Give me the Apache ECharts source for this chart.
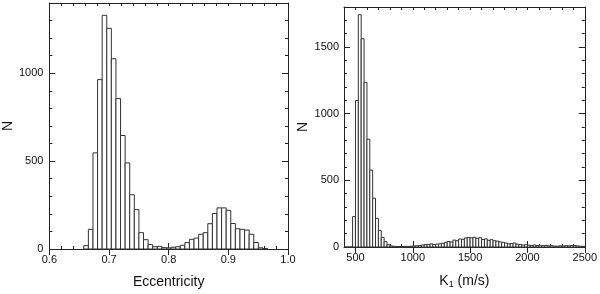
<!DOCTYPE html>
<html>
<head>
<meta charset="utf-8">
<script src="https://cdn.jsdelivr.net/npm/echarts@6/dist/echarts.min.js"></script>
<style>
  html, body { margin: 0; padding: 0; background: #fff; }
  #chart { width: 600px; height: 294px; }
</style>
</head>
<body>
<div id="chart"></div>
<script>
// eccentricity histogram: bins start at eccBinStart, each eccBinWidth wide
const eccBinStart = 0.6577;
const eccBinWidth = 0.0077;
const eccCounts = [
  19, 112, 547, 964, 1330, 1256, 1083, 856, 646, 490,
  309, 224, 93, 53, 25, 13, 15, 8, 6, 10,
  13, 21, 36, 55, 62, 84, 93, 144, 202, 234,
  234, 220, 145, 115, 112, 108, 84, 37, 7, 3
];
const eccTicks = [0.6, 0.7, 0.8, 0.9, 1.0];
const eccNTicks = [0, 500, 1000];

// K1 histogram (m/s), 25 m/s bins from 400 to 2500
const k1BinStart = 400;
const k1BinWidth = 25;
const k1Counts = [
  0, 0, 0, 228, 1099, 1742, 1562, 1235, 809, 577,
  366, 215, 124, 72, 40, 17,
  8, 5, 4, 3, 4, 5, 4, 6,
  8, 9, 12, 15, 18, 20, 23, 19,
  22, 24, 28, 35, 41, 38, 52, 47,
  60, 58, 68, 72, 69, 73, 65, 70,
  56, 61, 50, 55, 47, 44, 38, 35,
  30, 24, 26, 30, 21, 18, 15, 17,
  14, 12, 15, 11, 13, 10, 12, 9,
  10, 7, 6, 9, 8, 10, 9, 12,
  11, 8, 6, 5
];
const k1Ticks = [500, 1000, 1500, 2000, 2500];
const k1NTicks = [0, 500, 1000, 1500];

const font = 'Liberation Sans, Arial, sans-serif';
const ink = '#222';

// bins -> [left, right, count]
function toBins(start, width, counts) {
  return counts.map((c, i) => [start + i * width, start + (i + 1) * width, c]);
}

// four axes per direction: minor + major ticks on both sides, ticks inward
function axisSet(gridIndex, pos, min, max, minorStep, majors, opts) {
  const opp = pos === 'bottom' ? 'top' : 'right';
  const line = { onZero: false, lineStyle: { color: ink, width: 1 } };
  const base = { gridIndex, type: 'value', min, max, splitLine: { show: false } };
  return [
    {
      ...base, position: pos, interval: minorStep, axisLine: line,
      axisTick: { inside: true, length: 3, lineStyle: { color: ink } },
      axisLabel: { show: false }
    },
    {
      ...base, position: pos, axisLine: { show: false },
      axisTick: { inside: true, length: 6, customValues: majors, lineStyle: { color: ink } },
      axisLabel: {
        customValues: majors, color: '#111', fontFamily: font, fontSize: 11,
        margin: opts.margin, formatter: opts.fmt
      },
      name: opts.name, nameLocation: 'middle', nameGap: opts.nameGap,
      nameTextStyle: {
        color: '#111', fontFamily: font, fontSize: 14,
        rich: { s: { fontFamily: font, fontSize: 9, color: '#111', padding: [7, 0, 0, 0] } }
      }
    },
    {
      ...base, position: opp, interval: minorStep, axisLine: line,
      axisTick: { inside: true, length: 3, lineStyle: { color: ink } },
      axisLabel: { show: false }
    },
    {
      ...base, position: opp, axisLine: { show: false },
      axisTick: { inside: true, length: 6, customValues: majors, lineStyle: { color: ink } },
      axisLabel: { show: false }
    }
  ];
}

function histSeries(axisIndex, data) {
  return {
    type: 'custom',
    xAxisIndex: axisIndex,
    yAxisIndex: axisIndex,
    encode: { x: [0, 1], y: 2 },
    silent: true,
    renderItem: function (params, api) {
      const p0 = api.coord([api.value(0), api.value(2)]);
      const p1 = api.coord([api.value(1), 0]);
      return {
        type: 'rect',
        shape: { x: p0[0], y: p0[1], width: p1[0] - p0[0], height: p1[1] - p0[1] },
        style: { fill: '#fff', stroke: '#333', lineWidth: 1 }
      };
    },
    data: data
  };
}

const chart = echarts.init(document.getElementById('chart'), null, { renderer: 'canvas' });

chart.setOption({
  backgroundColor: '#fff',
  animation: false,
  grid: [
    { left: 44, right: 312, top: 3, bottom: 44.5 },
    { left: 344, right: 14, top: 7, bottom: 44.5 }
  ],
  xAxis: [
    ...axisSet(0, 'bottom', 0.6, 1.0, 0.02, eccTicks,
      { margin: 5, fmt: (v) => v.toFixed(1), name: 'Eccentricity', nameGap: 26 }),
    ...axisSet(1, 'bottom', 400, 2500, 100, k1Ticks,
      { margin: 5, fmt: (v) => String(v), name: 'K{s|1} (m/s)', nameGap: 26 })
  ],
  yAxis: [
    ...axisSet(0, 'left', 0, 1400, 100, eccNTicks,
      { margin: 6, fmt: (v) => String(v), name: 'N', nameGap: 30 }),
    ...axisSet(1, 'left', 0, 1800, 100, k1NTicks,
      { margin: 5, fmt: (v) => String(v), name: 'N', nameGap: 30 })
  ],
  series: [
    histSeries(0, toBins(eccBinStart, eccBinWidth, eccCounts)),
    histSeries(4, toBins(k1BinStart, k1BinWidth, k1Counts))
  ]
});
</script>
</body>
</html>
